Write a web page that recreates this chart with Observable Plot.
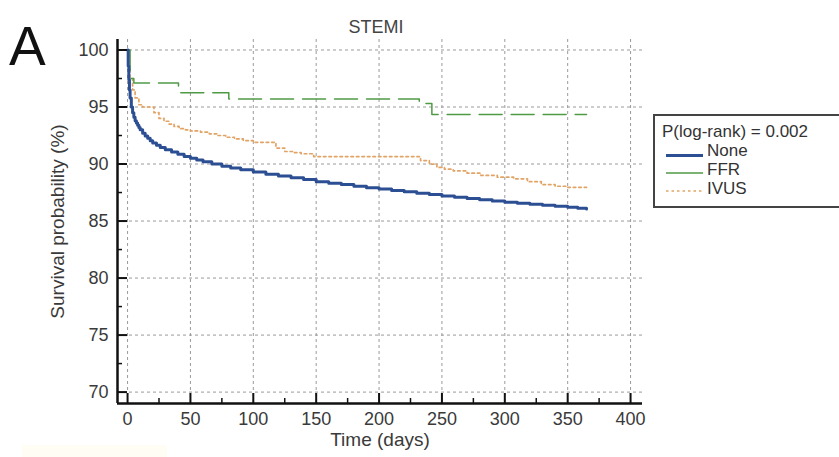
<!DOCTYPE html>
<html>
<head>
<meta charset="utf-8">
<script src="https://cdn.jsdelivr.net/npm/d3@7"></script>
<script src="https://cdn.jsdelivr.net/npm/@observablehq/plot@0.6"></script>
<style>
  html, body { margin: 0; padding: 0; background: #fff; }
  body { width: 839px; height: 457px; overflow: hidden; font-family: "Liberation Sans", Arial, sans-serif; }
  #wrap { position: relative; width: 839px; height: 457px; }
  #chart { position: absolute; left: 0; top: 0; }
  .ov { position: absolute; white-space: nowrap; color: #333; }
  #legend { position: absolute; left: 653px; top: 114px; width: 190px; height: 94px; border: 2px solid #444; box-sizing: border-box; background: #fff; }
  #legend .txt { position: absolute; font-size: 17px; line-height: 19px; height: 19px; color: #333; white-space: nowrap; }
  #legend svg { position: absolute; left: 0; top: 0; }
  #hl { position: absolute; left: 22px; top: 445px; width: 145px; height: 12px; background: rgba(255, 238, 170, 0.13); }
</style>
</head>
<body>
<div id="wrap">
  <div id="chart"></div>
  <div class="ov" style="left:9px; top:19px; font-size:55px; line-height:1; color:#111;">A</div>
  <div id="legend">
    <svg width="60" height="90">
      <line x1="11" y1="39.5" x2="48" y2="39.5" stroke="#2c4f93" stroke-width="3"/>
      <line x1="11" y1="57" x2="48" y2="57" stroke="#4f9a45" stroke-width="1.5"/>
      <line x1="11" y1="75" x2="48" y2="75" stroke="#e2a466" stroke-width="1.6" stroke-dasharray="2.5,3"/>
    </svg>
    <div class="txt" style="top:5.6px; left:7px;" id="legTitle"></div>
    <div class="txt" style="top:24.6px; left:52px;" id="leg0"></div>
    <div class="txt" style="top:43.6px; left:52px;" id="leg1"></div>
    <div class="txt" style="top:62.6px; left:52px;" id="leg2"></div>
  </div>
  <div id="hl"></div>
</div>
<script>
// ---- data ----
const seriesNames = ["None", "FFR", "IVUS"];
const pLogRank = "P(log-rank) = 0.002";
const chartTitle = "STEMI";
const xLabel = "Time (days)";
const yLabel = "Survival probability (%)";

const noneT = [0,0.5,1,1.5,2,3,4,5,6,7,8,9,10,12,14,16,18,20,23,26,30,35,40,45,50,55,60,67,75,82,90,100,110,120,130,140,150,160,170,180,190,200,210,220,230,240,250,260,270,280,290,300,310,320,330,340,350,358,365];
const noneS = [100,98.6,97.4,96.5,95.8,95.0,94.5,94.1,93.8,93.6,93.4,93.2,93.0,92.7,92.45,92.25,92.05,91.85,91.65,91.45,91.25,91.05,90.85,90.65,90.5,90.35,90.2,90.0,89.8,89.65,89.5,89.3,89.1,88.95,88.8,88.65,88.45,88.32,88.2,88.05,87.92,87.8,87.68,87.56,87.44,87.32,87.2,87.09,86.98,86.87,86.76,86.65,86.56,86.47,86.38,86.29,86.2,86.12,86.05];

const ffrT = [0, 2, 5, 40.5, 80.5, 232, 242, 365];
const ffrS = [100, 97.5, 97.1, 96.25, 95.7, 95.3, 94.35, 94.35];

const ivusT = [0,1,2,4,6,9,12,21,25,29,33,37,41,46,50,58,65,71,78,85,92,100,115,118,125,132,138,148,228,233,240,246,252,259,270,281,294,307,318,329,340,350,365];
const ivusS = [100,98.5,97.5,96.5,95.8,95.2,95.0,94.5,94.0,93.75,93.5,93.3,93.1,93.0,92.9,92.8,92.65,92.5,92.35,92.2,92.05,91.9,91.9,91.4,91.1,91.0,90.9,90.65,90.65,90.3,90.0,89.7,89.55,89.4,89.2,89.0,88.85,88.7,88.45,88.2,88.05,87.96,87.96];

const xTicks = [0, 50, 100, 150, 200, 250, 300, 350, 400];
const xMinor = [25, 75, 125, 175, 225, 275, 325, 375];
const yTicks = [70, 75, 80, 85, 90, 95, 100];
const yMinor = [72.5, 77.5, 82.5, 87.5, 92.5, 97.5];

// ---- build rows ----
const toRows = (ts, ss) => ts.map((t, i) => ({t, s: ss[i]}));
const none = toRows(noneT, noneS);
const ffr = toRows(ffrT, ffrS);
const ivus = toRows(ivusT, ivusS);

const xDom = [-8, 409.5];
const yDom = [69, 100.92];
const frameW = 839 - 117 - 197;
const frameH = 457 - 39 - 54;

const plot = Plot.plot({
  width: 839,
  height: 457,
  marginLeft: 117,
  marginRight: 197,
  marginTop: 39,
  marginBottom: 54,
  x: {domain: xDom},
  y: {domain: yDom},
  style: {fontFamily: "'Liberation Sans', Arial, sans-serif", color: "#333", background: "transparent"},
  marks: [
    Plot.gridX(xTicks, {stroke: "#9a9a9a", strokeOpacity: 1, strokeDasharray: "3,3", strokeWidth: 1}),
    Plot.gridY(yTicks, {stroke: "#9a9a9a", strokeOpacity: 1, strokeDasharray: "3,3", strokeWidth: 1}),
    Plot.line(ivus, {x: "t", y: "s", stroke: "#e2a466", strokeWidth: 1.7, strokeDasharray: "2.5,3", curve: "step-after"}),
    Plot.line(ffr, {x: "t", y: "s", stroke: "#4f9a45", strokeWidth: 1.5, strokeDasharray: "23,9", curve: "step-after"}),
    Plot.line(none, {x: "t", y: "s", stroke: "#2c4f93", strokeWidth: 3, curve: "step-after"}),
    // inward ticks
    Plot.tickY(yTicks, {y: d => d, insetRight: frameW - 10, stroke: "#111", strokeWidth: 2}),
    Plot.tickY(yMinor, {y: d => d, insetRight: frameW - 5, stroke: "#111", strokeWidth: 1.5}),
    Plot.tickX(xTicks, {x: d => d, insetTop: frameH - 10, stroke: "#111", strokeWidth: 2}),
    Plot.tickX(xMinor, {x: d => d, insetTop: frameH - 5, stroke: "#111", strokeWidth: 1.5}),
    // axis lines
    Plot.ruleX([xDom[0]], {stroke: "#111", strokeWidth: 2.5}),
    Plot.ruleY([yDom[0]], {stroke: "#111", strokeWidth: 2.5}),
    // tick labels
    Plot.axisY({ticks: yTicks, tickSize: 0, tickPadding: 9, fontSize: 18, fill: "#3a3a3a", label: null}),
    Plot.axisX({ticks: xTicks, tickSize: 0, tickPadding: 9, fontSize: 18, fill: "#3a3a3a", label: null}),
    // axis titles and title
    Plot.text([yLabel], {frameAnchor: "left", textAnchor: "middle", dx: -60, rotate: -90, fontSize: 19, fill: "#3a3a3a"}),
    Plot.text([xLabel], {frameAnchor: "bottom", dy: 42, fontSize: 19, fill: "#3a3a3a"}),
    Plot.text([chartTitle], {frameAnchor: "top", dx: -4, dy: -19, fontSize: 18, fill: "#444"})
  ]
});
document.getElementById("chart").appendChild(plot);
document.getElementById("legTitle").textContent = pLogRank;
document.getElementById("leg0").textContent = seriesNames[0];
document.getElementById("leg1").textContent = seriesNames[1];
document.getElementById("leg2").textContent = seriesNames[2];
</script>
</body>
</html>
